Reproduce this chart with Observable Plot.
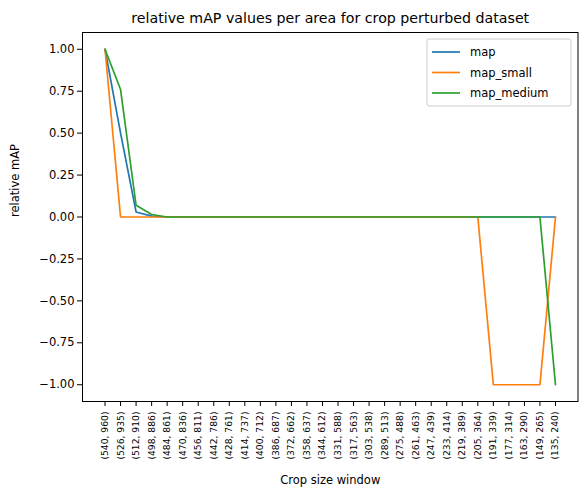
<!DOCTYPE html>
<html>
<head>
<meta charset="utf-8">
<script src="https://cdn.jsdelivr.net/npm/d3@7"></script>
<script src="https://cdn.jsdelivr.net/npm/@observablehq/plot@0.6"></script>
<style>
  body { margin: 0; background: white; }
  #chart svg { display: block; }
</style>
</head>
<body>
<div id="chart"></div>
<script>
const windows = ["(540, 960)","(526, 935)","(512, 910)","(498, 886)","(484, 861)","(470, 836)","(456, 811)","(442, 786)","(428, 761)","(414, 737)","(400, 712)","(386, 687)","(372, 662)","(358, 637)","(344, 612)","(331, 588)","(317, 563)","(303, 538)","(289, 513)","(275, 488)","(261, 463)","(247, 439)","(233, 414)","(219, 389)","(205, 364)","(191, 339)","(177, 314)","(163, 290)","(149, 265)","(135, 240)"];
const mapValues      = [1, 0.5, 0.03, 0.005, 0, 0, 0, 0, 0, 0, 0, 0, 0, 0, 0, 0, 0, 0, 0, 0, 0, 0, 0, 0, 0, 0, 0, 0, 0, 0];
const mapSmallValues = [1, 0, 0, 0, 0, 0, 0, 0, 0, 0, 0, 0, 0, 0, 0, 0, 0, 0, 0, 0, 0, 0, 0, 0, 0, -1, -1, -1, -1, 0];
const mapMediumValues= [1, 0.76, 0.07, 0.015, 0, 0, 0, 0, 0, 0, 0, 0, 0, 0, 0, 0, 0, 0, 0, 0, 0, 0, 0, 0, 0, 0, 0, 0, 0, -1];
const seriesNames = ["map", "map_small", "map_medium"];
const seriesColors = ["#1f77b4", "#ff7f0e", "#2ca02c"];
const yTicks = [-1, -0.75, -0.5, -0.25, 0, 0.25, 0.5, 0.75, 1];
const title = "relative mAP values per area for crop perturbed dataset";
const xLabel = "Crop size window";
const yLabel = "relative mAP";

const allSeries = [mapValues, mapSmallValues, mapMediumValues];
const rows = [];
allSeries.forEach((vals, s) => vals.forEach((v, i) => rows.push({i, v, series: seriesNames[s]})));

const n = windows.length;
const pad = (n - 1) * 0.05;
const fmt = d3.format(".2f");

const plot = Plot.plot({
  width: 587,
  height: 499,
  marginLeft: 82,
  marginRight: 9.5,
  marginTop: 32,
  marginBottom: 98,
  style: {fontFamily: "DejaVu Sans", fontSize: "11px", color: "black", background: "white"},
  x: {type: "linear", domain: [-pad, n - 1 + pad]},
  y: {domain: [-1.1, 1.1]},
  color: {domain: seriesNames, range: seriesColors},
  marks: [
    Plot.frame({stroke: "black", strokeWidth: 1}),
    Plot.axisX({
      ticks: d3.range(n),
      tickFormat: i => windows[i],
      tickRotate: -90,
      tickSize: 5,
      tickPadding: 5,
      fontSize: 9.2,
      label: null
    }),
    Plot.axisY({
      ticks: yTicks,
      tickFormat: d => fmt(d).replace("-", "\u2212"),
      tickSize: 5,
      tickPadding: 3,
      fontSize: 11.5,
      label: null
    }),
    Plot.line(rows, {x: "i", y: "v", z: "series", stroke: "series", strokeWidth: 1.7, strokeLinejoin: "miter"}),
    Plot.text([title], {frameAnchor: "top", dy: -20, fontSize: 14.2, fill: "black", text: d => d}),
    Plot.text([xLabel], {frameAnchor: "bottom", dy: 82, fontSize: 11.5, fill: "black", text: d => d}),
    Plot.text([yLabel], {frameAnchor: "left", dx: -67, rotate: -90, fontSize: 11.5, fill: "black", text: d => d})
  ]
});

document.getElementById("chart").appendChild(plot);

// Legend (upper right, matplotlib style)
const svg = d3.select(plot);
const lg = svg.append("g").attr("transform", "translate(427,39)");
lg.append("rect").attr("width", 144).attr("height", 67).attr("rx", 2)
  .attr("fill", "white").attr("fill-opacity", 0.8).attr("stroke", "#cccccc").attr("stroke-width", 1);
seriesNames.forEach((name, k) => {
  const y = 13 + k * 20.5;
  lg.append("line").attr("x1", 5).attr("x2", 33).attr("y1", y).attr("y2", y)
    .attr("stroke", seriesColors[k]).attr("stroke-width", 1.7);
  lg.append("text").attr("x", 43).attr("y", y).attr("dy", "0.35em")
    .attr("text-anchor", "start")
    .attr("font-family", "DejaVu Sans").attr("font-size", 11.5).attr("fill", "black").text(name);
});
</script>
</body>
</html>
